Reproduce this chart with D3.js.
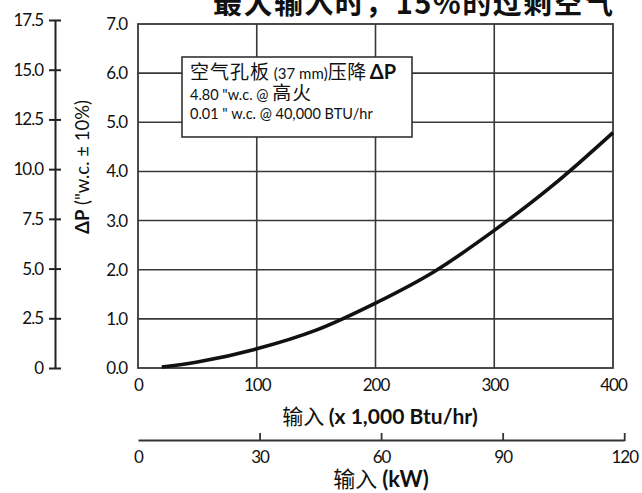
<!DOCTYPE html>
<html>
<head>
  <meta charset="utf-8">
  <script src="https://d3js.org/d3.v7.min.js"></script>
  <style>
    body { margin: 0; background: #fff; }
    text { fill: #111; }
    .tick text { font-family: Lato, "DejaVu Sans", sans-serif; font-size: 17px; letter-spacing: -1px; }
    .grid line { stroke: #383838; stroke-width: 1.6px; }
    .cjk { font-family: "Noto Sans CJK SC", sans-serif; }
    .lat { font-family: Lato, "DejaVu Sans", sans-serif; }
  </style>
</head>
<body>
  <div id="chart"></div>

  <script>
    // input in 1,000 Btu/hr and pressure drop in "w.c.
    var inputKbtu = [20, 50, 100, 150, 200, 250, 300, 350, 400];
    var dropWc = [0.02, 0.12, 0.39, 0.77, 1.32, 1.97, 2.80, 3.73, 4.79];

    var xTicks = [0, 100, 200, 300, 400];
    var yTicks = [0, 1, 2, 3, 4, 5, 6, 7];
    var y2Ticks = [0, 2.5, 5, 7.5, 10, 12.5, 15, 17.5];
    var kwTicks = [0, 30, 60, 90, 120];
    var kwToKbtu = 3.412;

    var data = inputKbtu.map(function(d, i) {
      return { x: d, y: dropWc[i] };
    });

    var margin = { top: 24, right: 29, bottom: 125, left: 138 };
    var width = 642 - margin.left - margin.right;
    var height = 493 - margin.top - margin.bottom;

    var svg = d3
      .select("#chart")
      .append("svg")
      .attr("width", 642)
      .attr("height", 493)
      .append("g")
      .attr("transform", "translate(" + margin.left + "," + margin.top + ")");

    var x = d3.scaleLinear().domain([0, 400]).range([0, width]);
    var y = d3.scaleLinear().domain([0, 7]).range([height, 0]);
    var y2 = d3.scaleLinear().domain([0, 17.5]).range([height, -4]);
    var xkw = d3.scaleLinear().domain([0, 120]).range([0, x(120 * kwToKbtu)]);

    // grid
    var grid = svg.append("g").attr("class", "grid");
    grid.selectAll(".gy")
      .data(yTicks.slice(1, -1))
      .enter()
      .append("line")
      .attr("x1", 0)
      .attr("x2", width)
      .attr("y1", function(d) { return y(d); })
      .attr("y2", function(d) { return y(d); });
    grid.selectAll(".gx")
      .data(xTicks.slice(1, -1))
      .enter()
      .append("line")
      .attr("y1", 0)
      .attr("y2", height)
      .attr("x1", function(d) { return x(d); })
      .attr("x2", function(d) { return x(d); });
    svg.append("rect")
      .attr("width", width)
      .attr("height", height)
      .attr("fill", "none")
      .attr("stroke", "#383838")
      .attr("stroke-width", 1.8);

    // primary axes
    var yAxis = svg.append("g")
      .call(d3.axisLeft(y).tickValues(yTicks).tickFormat(d3.format(".1f")).tickSize(0).tickPadding(11));
    yAxis.select(".domain").remove();

    var xAxis = svg.append("g")
      .attr("transform", "translate(0," + height + ")")
      .call(d3.axisBottom(x).tickValues(xTicks).tickSize(0));
    xAxis.select(".domain").remove();
    xAxis.selectAll("text").attr("dy", 0).attr("y", 23);

    // secondary left axis
    var y2Axis = svg.append("g")
      .attr("transform", "translate(-83,0)")
      .call(d3.axisLeft(y2).tickValues(y2Ticks).tickSizeOuter(0)
        .tickFormat(function(d) { return d === 0 ? "0" : d3.format(".1f")(d); }));
    y2Axis.select(".domain").attr("stroke", "#222").attr("stroke-width", 2);
    y2Axis.selectAll(".tick line").attr("x1", 6).attr("x2", -6).attr("stroke", "#222").attr("stroke-width", 2);
    y2Axis.selectAll(".tick text").attr("x", -12);

    // kW axis
    var kwAxis = svg.append("g")
      .attr("transform", "translate(0," + (height + 72) + ")")
      .call(d3.axisBottom(xkw).tickValues(kwTicks).tickSizeOuter(0));
    kwAxis.select(".domain").attr("stroke", "#333").attr("stroke-width", 1.8);
    kwAxis.selectAll(".tick line")
      .attr("y1", -7)
      .attr("y2", 1)
      .attr("stroke", "#333")
      .attr("stroke-width", 1.8)
      .attr("display", function(d) { return d === 0 ? "none" : null; });
    kwAxis.selectAll(".tick text").attr("dy", 0).attr("y", 23);

    // curve
    svg.append("path")
      .datum(data)
      .attr("fill", "none")
      .attr("stroke", "#111")
      .attr("stroke-width", 3.6)
      .attr("d", d3.line()
        .x(function(d) { return x(d.x); })
        .y(function(d) { return y(d.y); })
        .curve(d3.curveCatmullRom.alpha(0.5)));

    // legend box
    svg.append("rect")
      .attr("x", 44)
      .attr("y", 33)
      .attr("width", 230)
      .attr("height", 80)
      .attr("fill", "#fff")
      .attr("stroke", "#333")
      .attr("stroke-width", 1.6);

    var l1 = svg.append("text").attr("x", 52).attr("y", 55);
    l1.append("tspan").attr("class", "cjk").attr("font-size", 19).attr("letter-spacing", 1).text("空气孔板");
    l1.append("tspan").attr("class", "lat").attr("font-size", 15).text(" (37 mm)");
    l1.append("tspan").attr("class", "cjk").attr("font-size", 19).attr("letter-spacing", 0.5).text("压降");
    l1.append("tspan").attr("class", "lat").attr("font-size", 20).attr("font-weight", "bold").attr("dx", 3).text("ΔP");

    var l2 = svg.append("text").attr("x", 52).attr("y", 76);
    l2.append("tspan").attr("class", "lat").attr("font-size", 14.5).text("4.80 \"w.c. @ ");
    l2.append("tspan").attr("class", "cjk").attr("font-size", 19).attr("letter-spacing", 1).text("高火");

    svg.append("text").attr("class", "lat").attr("x", 52).attr("y", 95)
      .attr("font-size", 14.5).text("0.01 \" w.c. @ 40,000 BTU/hr");

    // axis titles
    var yt = svg.append("text")
      .attr("class", "lat")
      .attr("transform", "translate(-49," + (height / 2 - 29) + ") rotate(-90)")
      .attr("text-anchor", "middle")
      .attr("font-size", 18.5);
    yt.append("tspan").attr("font-weight", "bold").text("ΔP");
    yt.append("tspan").text(" (\"w.c. ± 10%)");

    var xt = svg.append("text")
      .attr("x", 242)
      .attr("y", height + 56)
      .attr("text-anchor", "middle");
    xt.append("tspan").attr("class", "cjk").attr("font-size", 21).text("输入 ");
    xt.append("tspan").attr("class", "lat").attr("font-size", 21).attr("font-weight", "bold").text("(x 1,000 Btu/hr)");

    var kt = svg.append("text")
      .attr("x", 243)
      .attr("y", height + 119)
      .attr("text-anchor", "middle");
    kt.append("tspan").attr("class", "cjk").attr("font-size", 22).text("输入 ");
    kt.append("tspan").attr("class", "lat").attr("font-size", 22).attr("font-weight", "bold").text("(kW)");

    // title, cut off at the top edge
    svg.append("text")
      .attr("class", "cjk")
      .attr("x", 75)
      .attr("y", -10)
      .attr("font-size", 29)
      .attr("font-weight", "bold")
      .attr("textLength", 400)
      .attr("lengthAdjust", "spacing")
      .text("最大输入时，15%的过剩空气");
  </script>
</body>
</html>
